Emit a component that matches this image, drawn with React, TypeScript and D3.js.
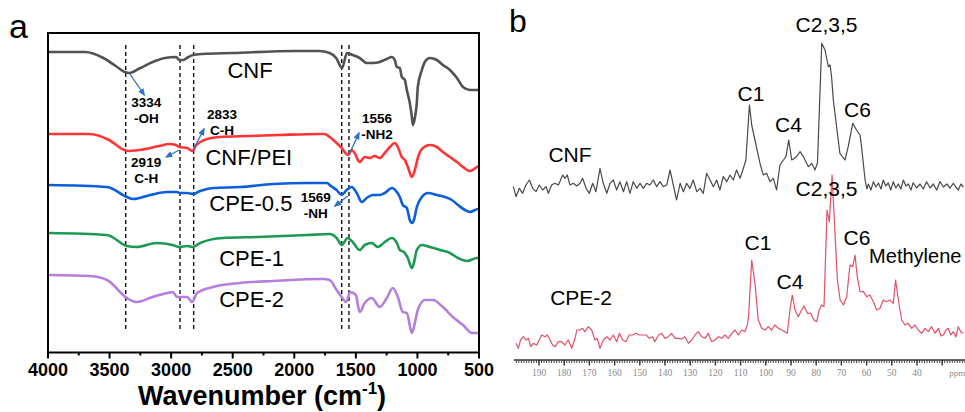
import React from "react";
import * as d3 from "d3";

// ---------- Panel a: FTIR spectra (wavenumber, relative transmittance, arbitrary units) ----------
const ftirCNF: [number, number][] = [
  [4000, 301], [3700, 301], [3550, 295], [3450, 287], [3376, 281], [3340, 280], [3250, 285], [3150, 291],
  [3050, 295], [2960, 296], [2934, 293], [2900, 293], [2860, 296], [2822, 298], [2750, 299], [2500, 300],
  [2000, 302], [1800, 302], [1713, 300], [1660, 295], [1612, 285], [1572, 300], [1526, 298], [1469, 295],
  [1412, 290], [1363, 290], [1306, 291], [1249, 294], [1208, 296], [1184, 293], [1167, 286], [1143, 285],
  [1127, 276], [1102, 273], [1086, 263], [1062, 250], [1045, 236], [1037, 228], [1021, 235], [1005, 250],
  [997, 266], [964, 283], [940, 291], [899, 295], [842, 293], [793, 288], [736, 283], [679, 275],
  [630, 266], [573, 263], [516, 263], [500, 264],
];
const ftirCNFPEI: [number, number][] = [
  [4000, 219], [3666, 219], [3504, 213], [3381, 203], [3341, 202], [3260, 203], [3097, 207], [3015, 209],
  [2960, 208], [2934, 206], [2870, 205], [2828, 202], [2795, 208], [2730, 213], [2608, 216], [2364, 217],
  [2120, 218], [1794, 219], [1753, 219], [1713, 216], [1656, 210], [1615, 205], [1562, 198], [1534, 203],
  [1510, 200], [1469, 191], [1428, 196], [1387, 195], [1347, 197], [1306, 195], [1265, 200], [1224, 206],
  [1184, 210], [1159, 206], [1127, 196], [1102, 193], [1078, 186], [1045, 176], [1021, 183], [997, 195],
  [956, 205], [899, 208], [842, 206], [793, 201], [736, 196], [679, 191], [630, 186], [573, 182],
  [516, 186], [500, 187],
];
const ftirCPE05: [number, number][] = [
  [4000, 168], [3520, 166], [3360, 156], [3310, 154], [3170, 158], [3032, 161], [2950, 161], [2934, 160],
  [2870, 160], [2822, 159], [2765, 162], [2660, 165], [2440, 166], [2170, 169], [1895, 170], [1732, 170],
  [1713, 168], [1656, 163], [1615, 158], [1575, 163], [1534, 166], [1493, 160], [1453, 151], [1412, 155],
  [1363, 158], [1306, 158], [1265, 160], [1208, 165], [1167, 161], [1143, 156], [1119, 148], [1086, 145],
  [1062, 133], [1045, 130], [1029, 133], [1005, 146], [964, 156], [915, 160], [842, 158], [777, 156],
  [720, 153], [671, 148], [614, 143], [573, 141], [508, 144], [500, 144],
];
const ftirCPE1: [number, number][] = [
  [4000, 120], [3520, 118], [3360, 107], [3280, 106], [3118, 110], [2988, 108], [2934, 106], [2870, 107],
  [2822, 106], [2765, 110], [2578, 115], [2300, 116], [1895, 118], [1713, 119], [1656, 115], [1615, 108],
  [1566, 115], [1526, 111], [1469, 103], [1428, 108], [1371, 110], [1322, 106], [1265, 111], [1208, 115],
  [1167, 110], [1143, 103], [1110, 101], [1078, 95], [1045, 85], [1029, 90], [1005, 103], [964, 108],
  [899, 106], [817, 103], [736, 100], [671, 95], [597, 92], [516, 95], [500, 95],
];
const ftirCPE2: [number, number][] = [
  [4000, 78], [3658, 77], [3520, 73], [3360, 55], [3280, 51], [3150, 56], [3032, 60], [2988, 61],
  [2950, 56], [2870, 56], [2830, 51], [2790, 60], [2660, 66], [2440, 70], [2170, 72], [1765, 74],
  [1713, 73], [1656, 63], [1615, 56], [1580, 51], [1545, 61], [1500, 58], [1469, 41], [1428, 50],
  [1371, 55], [1306, 46], [1249, 55], [1200, 65], [1159, 56], [1119, 41], [1086, 40], [1045, 20],
  [1021, 30], [997, 43], [940, 53], [875, 53], [793, 46], [712, 36], [630, 28], [556, 20],
  [508, 20], [500, 21],
];
const ftirNames = ["CNF", "CNF/PEI", "CPE-0.5", "CPE-1", "CPE-2"];
const ftirColors = ["#525252", "#ff3434", "#0b5fdc", "#1c9a52", "#b67fdc"];
const ftirSeries = [ftirCNF, ftirCNFPEI, ftirCPE05, ftirCPE1, ftirCPE2];
const ftirTicks = [4000, 3500, 3000, 2500, 2000, 1500, 1000, 500];
const ftirMinorTicks = [3750, 3250, 2750, 2250, 1750, 1250, 750];
const dashedWavenumbers = [3369, 2928, 2817, 1615, 1556];

// annotations: [wavenumber, value at curve, label lines]
const ftirNotes: { w: number; v: number; lines: string[] }[] = [
  { w: 3340, v: 280, lines: ["3334", "-OH"] },
  { w: 2822, v: 203, lines: ["2833", "C-H"] },
  { w: 2935, v: 203, lines: ["2919", "C-H"] },
  { w: 1556, v: 198, lines: ["1556", "-NH2"] },
  { w: 1565, v: 157, lines: ["1569", "-NH"] },
];

// ---------- Panel b: 13C NMR (ppm, intensity) ----------
const nmrCNF: [number, number][] = [
  [200.2, 1.3], [199.1, -8.7], [197.8, -0.3], [196.5, -5.3], [195.2, 3], [193.8, 8], [192.5, -0.3],
  [191.2, -3.7], [189.9, 3], [188.5, -2], [187.2, 1.3], [186.3, -5.3], [185.0, 3], [183.7, 4.7],
  [182.3, 3], [180.6, 13], [179.7, 9.7], [178.8, 13], [177.7, 3], [176.4, 4.7], [175.0, 2], [173.7, 4.7],
  [172.7, 9.7], [171.3, -0.3], [170.0, -5.3], [168.7, 4.7], [167.4, -3.7], [165.8, 19.7], [164.5, 4.7],
  [163.1, -5.3], [161.8, 4.7], [160.5, 8], [159.2, -2], [157.9, 6.3], [156.5, -3.7], [155.2, 6.3],
  [153.9, -5.3], [152.6, 6.3], [151.2, -0.3], [149.9, 4.7], [148.6, -0.3], [147.3, 4.7], [146.0, 3],
  [144.6, 8], [143.3, 1.3], [142.0, 6.3], [140.7, 1.3], [139.3, 3], [138.0, 18], [136.7, 3],
  [135.4, -12], [134.0, 4.7], [132.7, -3.7], [131.4, 4.7], [130.1, -0.3], [128.8, 8], [127.4, -3.7],
  [126.1, -0.3], [124.8, -5.3], [123.5, 14.7], [122.1, 8], [120.8, 1.3], [119.5, 8], [118.2, -2],
  [116.9, 11.3], [115.5, 6.3], [114.2, 13], [112.9, 8], [111.6, 18], [110.2, 9.7], [108.9, 19.7],
  [107.9, 28], [106.5, 83], [105.6, 63], [104.3, 48], [102.3, 24.7], [101.0, 13],
  [99.7, 14.7], [98.3, 6.3], [97.0, 9.7], [95.7, -2], [94.4, 23], [93.0, 28], [92.0, 31.3], [90.9, 48],
  [89.7, 28], [87.8, 31.3], [86.4, 36.3], [85.1, 31.3], [83.1, 21.3], [81.8, 24.7], [80.5, 18],
  [79.5, 25], [77.8, 144.7], [76.5, 138], [75.2, 121.3], [74.5, 123], [73.9, 111.3], [73.2, 88],
  [71.9, 61.3], [70.6, 34.7], [68.6, 28], [67.3, 41.3], [65.5, 64.7], [64.0, 58], [62.6, 53],
  [62.0, 41.3], [60.6, 8], [59.9, -1], [59.3, 4], [58.3, -2], [57.3, 6.3], [56.3, 1], [55.3, 5],
  [54.3, -1], [53.4, 8], [52.4, 2], [51.4, 5], [50.4, -2], [49.4, 6.3], [48.4, 0], [47.4, 4],
  [46.4, -1], [45.4, 8], [44.4, 2], [43.4, 4], [42.4, -2], [41.5, 5.3], [40.2, 0], [38.8, 4],
  [37.5, -1], [36.2, 6.3], [34.8, 0], [33.5, 4], [32.2, -2], [30.9, 6.3], [29.5, 1], [28.2, 4],
  [26.9, 0], [25.6, 4.7], [24.6, 1], [23.6, -2], [22.6, 4], [21.6, 1],
];
const nmrCPE2: [number, number][] = [
  [199.1, -3.3], [198.2, -8.3], [197.3, 0], [196.2, 3.3], [195.2, 0], [194.2, 1.7], [193.3, -6.7],
  [192.3, -3.3], [190.9, -5], [189.9, 0], [188.9, 5], [187.6, 3.3], [186.7, 5], [185.6, 0], [184.6, -5],
  [183.6, -6.7], [182.3, -1.7], [181.0, -1.7], [179.7, -5], [178.4, 0], [177.0, -8.3], [175.7, 1.7],
  [175.0, 10], [173.7, 10], [172.7, 11.7], [171.8, 8.3], [170.4, 13.3], [169.1, 10], [167.8, 0],
  [166.9, 1.7], [165.8, -8.3], [164.5, 0], [163.1, 3.3], [161.8, 0], [160.5, 5], [159.2, -1.7],
  [158.1, 6.7], [156.8, 0], [155.5, -1.7], [154.2, 5], [152.8, 5], [151.5, 6.7], [150.2, 5], [148.9, 5],
  [147.5, 5], [146.2, 1.7], [144.9, 3.3], [144.0, -1.7], [142.6, 5], [141.3, 6.7], [140.0, 1.7],
  [138.7, 3.3], [137.4, 6.7], [136.0, 1.7], [134.7, 1.7], [133.4, 1], [132.1, 3.3], [130.7, -3.3],
  [129.4, 0], [128.1, 5], [126.8, 8.3], [125.4, 3.3], [124.1, 1.7], [122.8, 6.7], [121.5, -1.7],
  [120.2, 0], [118.8, 3.3], [117.5, 1.7], [116.2, 5], [114.9, 1.7], [113.5, 6.7], [112.2, 10],
  [110.9, 5], [109.6, 10], [108.3, 8.3], [107.3, 15], [106.8, 25], [105.6, 80], [104.3, 56.7],
  [103.0, 20], [101.6, 11.7], [100.3, 10], [99.0, 13.3], [97.7, 10], [96.4, 15], [95.0, 11.7], [93.7, 10],
  [92.4, 8.3], [91.5, 6.7], [90.4, 30], [89.5, 45], [88.4, 30], [87.1, 23.3], [85.8, 30], [84.8, 34],
  [83.5, 26.7], [82.2, 26.7], [80.9, 20], [79.8, 18.3], [78.8, 30], [77.8, 35], [76.9, 33.3], [75.7, 130],
  [74.8, 118], [73.7, 165], [72.6, 110], [71.6, 60], [70.5, 40], [69.2, 35], [67.9, 43.3], [66.6, 75],
  [65.5, 73.3], [64.6, 85], [63.7, 63.3], [62.6, 48.3], [61.3, 48.3], [60.0, 43.3], [58.7, 45],
  [57.3, 38.3], [56.0, 30], [54.7, 31.7], [53.4, 40], [52.1, 38.3], [50.7, 40], [49.4, 36.7], [48.5, 60],
  [47.4, 40], [46.1, 20], [44.8, 15], [43.5, 16.7], [42.1, 11.7], [40.8, 15], [39.5, 10], [38.2, 6.7],
  [36.8, 11.7], [35.5, 8.3], [34.2, 13.3], [32.9, 6.7], [31.5, 11.7], [30.5, 4], [29.5, 5], [28.5, 10],
  [27.6, 11.7], [26.6, 5], [25.6, 8.3], [24.6, 3], [23.6, 13.3], [22.6, 8], [21.6, 6.7],
];
const nmrTickLabels = [190, 180, 170, 160, 150, 140, 130, 120, 110, 100, 90, 80, 70, 60, 50, 40];
const nmrMajorTicks = [190, 180, 170, 160, 150, 140, 130, 120, 110, 100, 90, 80, 70, 60, 50, 40, 30];
const nmrCNFLabels: { ppm: number; v: number; text: string }[] = [
  { ppm: 105.9, v: 87, text: "C1" },
  { ppm: 91.0, v: 56, text: "C4" },
  { ppm: 75.9, v: 156, text: "C2,3,5" },
  { ppm: 63.6, v: 71, text: "C6" },
  { ppm: 177.7, v: 26, text: "CNF" },
];
const nmrCPELabels: { ppm: number; v: number; text: string }[] = [
  { ppm: 103.1, v: 90, text: "C1" },
  { ppm: 90.4, v: 51, text: "C4" },
  { ppm: 75.9, v: 144, text: "C2,3,5" },
  { ppm: 63.8, v: 95, text: "C6" },
  { ppm: 173.3, v: 35, text: "CPE-2" },
];

const SANS = "'Liberation Sans', Arial, Helvetica, sans-serif";
const SERIF = "'Liberation Serif', 'Times New Roman', serif";

export default function App() {
  const xA = d3.scaleLinear().domain([4000, 500]).range([48, 479]);
  const yA = d3.scaleLinear().domain([0, 320]).range([353, 33]);
  const lineA = d3
    .line<[number, number]>()
    .x((d) => xA(d[0]))
    .y((d) => yA(d[1]))
    .curve(d3.curveMonotoneX);

  const xB = d3.scaleLinear().domain([190, 40]).range([539, 917]);
  const yB1 = d3.scaleLinear().domain([0, 150]).range([188, 38]);
  const yB2 = d3.scaleLinear().domain([0, 150]).range([340, 190]);
  const lineB1 = d3.line<[number, number]>().x((d) => xB(d[0])).y((d) => yB1(d[1]));
  const lineB2 = d3.line<[number, number]>().x((d) => xB(d[0])).y((d) => yB2(d[1]));

  const frameBottom = yA(0.5);
  const minorPpm = d3.range(21, 200, 1);
  const axisY = 360;

  // label positions for FTIR names (start x in wavenumber, baseline value)
  const ftirLabelPos: [number, number][] = [
    [2543, 275],
    [2722, 188],
    [2690, 142],
    [2610, 87],
    [2610, 46],
  ];

  // annotation label offsets (px from curve point) and arrow end offsets
  const noteGeom = [
    { ax: 15, ay: 22, lx: 17, ly: 34 },
    { ax: 11, ay: -21, lx: 29, ly: -31 },
    { ax: -13, ay: 7, lx: -33, ly: 17 },
    { ax: 10, ay: -22, lx: 28, ly: -32 },
    { ax: -13, ay: 10, lx: -32, ly: 6 },
  ];

  return (
    <svg
      width={965}
      height={412}
      viewBox="0 0 965 412"
      style={{ position: "absolute", left: 0, top: 0, background: "#fff" }}
    >
      <defs>
        <marker id="arrowHead" viewBox="0 0 10 10" refX="8" refY="5" markerWidth="6" markerHeight="6" orient="auto-start-reverse">
          <path d="M0,1 L10,5 L0,9 z" fill="#2f6fc4" />
        </marker>
        <clipPath id="clipA">
          <rect x={49} y={34} width={429} height={317} />
        </clipPath>
      </defs>
      <rect x={0} y={0} width={965} height={412} fill="#fff" />

      {/* ---------------- Panel a ---------------- */}
      <text x={9} y={38} fontFamily={SANS} fontSize={34}>a</text>

      {dashedWavenumbers.map((w, i) => (
        <line key={i} x1={xA(w)} x2={xA(w)} y1={yA(308)} y2={yA(24)} stroke="#111" strokeWidth={1.4} strokeDasharray="4 3" />
      ))}

      <g clipPath="url(#clipA)">
        {ftirSeries.map((s, i) => (
          <path key={i} d={lineA(s) || ""} fill="none" stroke={ftirColors[i]} strokeWidth={2.6} strokeLinejoin="round" />
        ))}
      </g>

      <rect x={xA(4000)} y={yA(320)} width={xA(500) - xA(4000)} height={frameBottom - yA(320)} fill="none" stroke="#000" strokeWidth={2} />

      {ftirTicks.map((t) => (
        <g key={t}>
          <line x1={xA(t)} x2={xA(t)} y1={frameBottom} y2={frameBottom + 6} stroke="#000" strokeWidth={2} />
          <text x={xA(t)} y={376} textAnchor="middle" fontFamily={SANS} fontWeight="bold" fontSize={18}>{t}</text>
        </g>
      ))}
      {ftirMinorTicks.map((t) => (
        <line key={t} x1={xA(t)} x2={xA(t)} y1={frameBottom} y2={frameBottom + 3} stroke="#000" strokeWidth={2} />
      ))}

      <text x={262} y={405} textAnchor="middle" fontFamily={SANS} fontWeight="bold" fontSize={27}>
        Wavenumber (cm
        <tspan fontSize={17} dy={-11}>-1</tspan>
        <tspan dy={11}>)</tspan>
      </text>

      {ftirNames.map((n, i) => (
        <text key={n} x={xA(ftirLabelPos[i][0])} y={yA(ftirLabelPos[i][1])} fontFamily={SANS} fontSize={22}>{n}</text>
      ))}

      {ftirNotes.map((n, i) => {
        const x0 = xA(n.w);
        const y0 = yA(n.v);
        const g = noteGeom[i];
        return (
          <g key={i}>
            <line x1={x0} y1={y0} x2={x0 + g.ax} y2={y0 + g.ay} stroke="#2f6fc4" strokeWidth={1.3} markerEnd="url(#arrowHead)" />
            {n.lines.map((l, j) => (
              <text key={j} x={x0 + g.lx} y={y0 + g.ly + j * 16} textAnchor="middle" fontFamily={SANS} fontWeight="bold" fontSize={13.5}>{l}</text>
            ))}
          </g>
        );
      })}

      {/* ---------------- Panel b ---------------- */}
      <text x={509} y={32} fontFamily={SANS} fontSize={32}>b</text>

      <path d={lineB1(nmrCNF) || ""} fill="none" stroke="#4a4a4a" strokeWidth={1.2} strokeLinejoin="round" />
      <path d={lineB2(nmrCPE2) || ""} fill="none" stroke="#e2506a" strokeWidth={1.2} strokeLinejoin="round" />

      {nmrCNFLabels.map((l, i) => (
        <text key={i} x={xB(l.ppm)} y={yB1(l.v)} textAnchor="middle" fontFamily={SANS} fontSize={21}>{l.text}</text>
      ))}
      {nmrCPELabels.map((l, i) => (
        <text key={i} x={xB(l.ppm)} y={yB2(l.v)} textAnchor="middle" fontFamily={SANS} fontSize={21}>{l.text}</text>
      ))}
      <text x={xB(59)} y={yB2(77)} fontFamily={SANS} fontSize={20}>Methylene</text>

      {/* NMR axis */}
      <line x1={xB(200)} x2={965} y1={axisY} y2={axisY} stroke="#333" strokeWidth={1.6} />
      {minorPpm.map((p) => (
        <line key={p} x1={xB(p)} x2={xB(p)} y1={axisY} y2={axisY + 3} stroke="#444" strokeWidth={1} />
      ))}
      {nmrMajorTicks.map((p) => (
        <line key={p} x1={xB(p)} x2={xB(p)} y1={axisY} y2={axisY + 5.5} stroke="#333" strokeWidth={1.4} />
      ))}
      {nmrTickLabels.map((p) => (
        <text key={p} x={xB(p)} y={376} textAnchor="middle" fontFamily={SERIF} fontSize={9.5} fill="#8a8a8a">{p}</text>
      ))}
      <text x={xB(24)} y={376} textAnchor="middle" fontFamily={SERIF} fontSize={9} fill="#8a8a8a">ppm</text>
    </svg>
  );
}
